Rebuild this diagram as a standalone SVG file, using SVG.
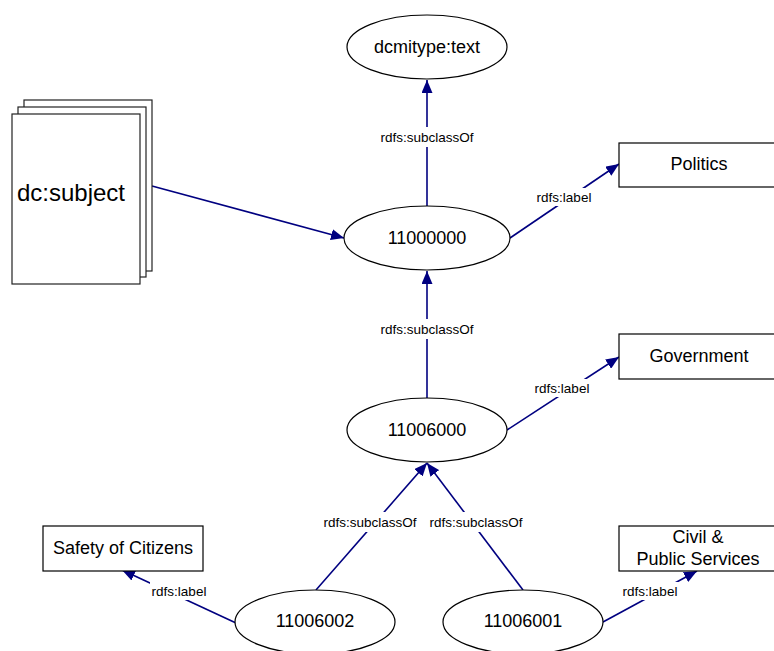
<svg xmlns="http://www.w3.org/2000/svg" width="774" height="651" viewBox="0 0 774 651">
<defs>
<style>
.node{fill:#fff;stroke:#000;stroke-width:1.2}
.sheet{fill:#fff;stroke:#222;stroke-width:1.2}
.t{font-family:"Liberation Sans",Arial,sans-serif;font-size:18px;fill:#000;text-anchor:middle;dominant-baseline:central}
.big{font-size:24px}
.lbl{font-family:"Liberation Sans",Arial,sans-serif;font-size:13.5px;fill:#000;text-anchor:middle;dominant-baseline:central}
.edge{stroke:#000080;stroke-width:1.6;fill:none;marker-end:url(#arr)}
.bg{fill:#fff}
</style>
<marker id="arr" viewBox="0 0 13 11" refX="13" refY="5.5" markerWidth="13" markerHeight="11" markerUnits="userSpaceOnUse" orient="auto">
<path d="M0,0 L13,5.5 L0,11 z" fill="#000080"/>
</marker>
</defs>
<rect width="774" height="651" fill="#fff"/>
<g id="connectors">
<line class="edge" x1="152" y1="186" x2="344" y2="238"/>
<line class="edge" x1="427" y1="206" x2="427" y2="80"/>
<line class="edge" x1="510" y1="238" x2="619" y2="164"/>
<line class="edge" x1="427" y1="398" x2="427" y2="271"/>
<line class="edge" x1="507" y1="430" x2="619" y2="357"/>
<line class="edge" x1="316" y1="590" x2="427" y2="463"/>
<line class="edge" x1="523" y1="590" x2="427" y2="463"/>
<line class="edge" x1="236" y1="623" x2="122" y2="570"/>
<line class="edge" x1="603" y1="622" x2="697" y2="571"/>
<rect class="bg" x="379" y="127" width="96" height="20"/>
<text class="lbl" x="427" y="137">rdfs:subclassOf</text>
<rect class="bg" x="535" y="188" width="58" height="18"/>
<text class="lbl" x="564" y="197">rdfs:label</text>
<rect class="bg" x="379" y="319" width="96" height="20"/>
<text class="lbl" x="427" y="329">rdfs:subclassOf</text>
<rect class="bg" x="533" y="379" width="58" height="18"/>
<text class="lbl" x="562" y="388">rdfs:label</text>
<rect class="bg" x="322" y="512" width="96" height="20"/>
<text class="lbl" x="370" y="522">rdfs:subclassOf</text>
<rect class="bg" x="428" y="512" width="96" height="20"/>
<text class="lbl" x="476" y="522">rdfs:subclassOf</text>
<rect class="bg" x="150" y="582" width="58" height="18"/>
<text class="lbl" x="179" y="591">rdfs:label</text>
<rect class="bg" x="621" y="582" width="58" height="18"/>
<text class="lbl" x="650" y="591">rdfs:label</text>
</g>
<g id="dc-subject">
<rect class="sheet" x="24" y="100" width="128" height="171"/>
<rect class="sheet" x="18" y="107" width="128" height="170"/>
<rect class="sheet" x="12" y="114" width="128" height="170"/>
<text class="t big" x="71" y="192">dc:subject</text>
</g>
<g id="dcmitype-text">
<ellipse class="node" cx="427" cy="47" rx="80" ry="32"/>
<text class="t" x="427" y="47">dcmitype:text</text>
</g>
<g id="n11000000">
<ellipse class="node" cx="427" cy="238" rx="83" ry="32"/>
<text class="t" x="427" y="238">11000000</text>
</g>
<g id="politics">
<rect class="node" x="619" y="143" width="170" height="44"/>
<text class="t" x="699" y="164">Politics</text>
</g>
<g id="government">
<rect class="node" x="619" y="334" width="170" height="45"/>
<text class="t" x="699" y="356">Government</text>
</g>
<g id="n11006000">
<ellipse class="node" cx="427" cy="430" rx="80" ry="32"/>
<text class="t" x="427" y="430">11006000</text>
</g>
<g id="safety">
<rect class="node" x="43" y="526" width="160" height="45"/>
<text class="t" x="123" y="548">Safety of Citizens</text>
</g>
<g id="civil">
<rect class="node" x="619" y="526" width="170" height="45"/>
<text class="t" x="698" y="537">Civil &amp;</text>
<text class="t" x="698" y="559">Public Services</text>
</g>
<g id="n11006002">
<ellipse class="node" cx="315" cy="622" rx="80" ry="32"/>
<text class="t" x="315" y="621">11006002</text>
</g>
<g id="n11006001">
<ellipse class="node" cx="523" cy="622" rx="80" ry="32"/>
<text class="t" x="523" y="621">11006001</text>
</g>
</svg>
